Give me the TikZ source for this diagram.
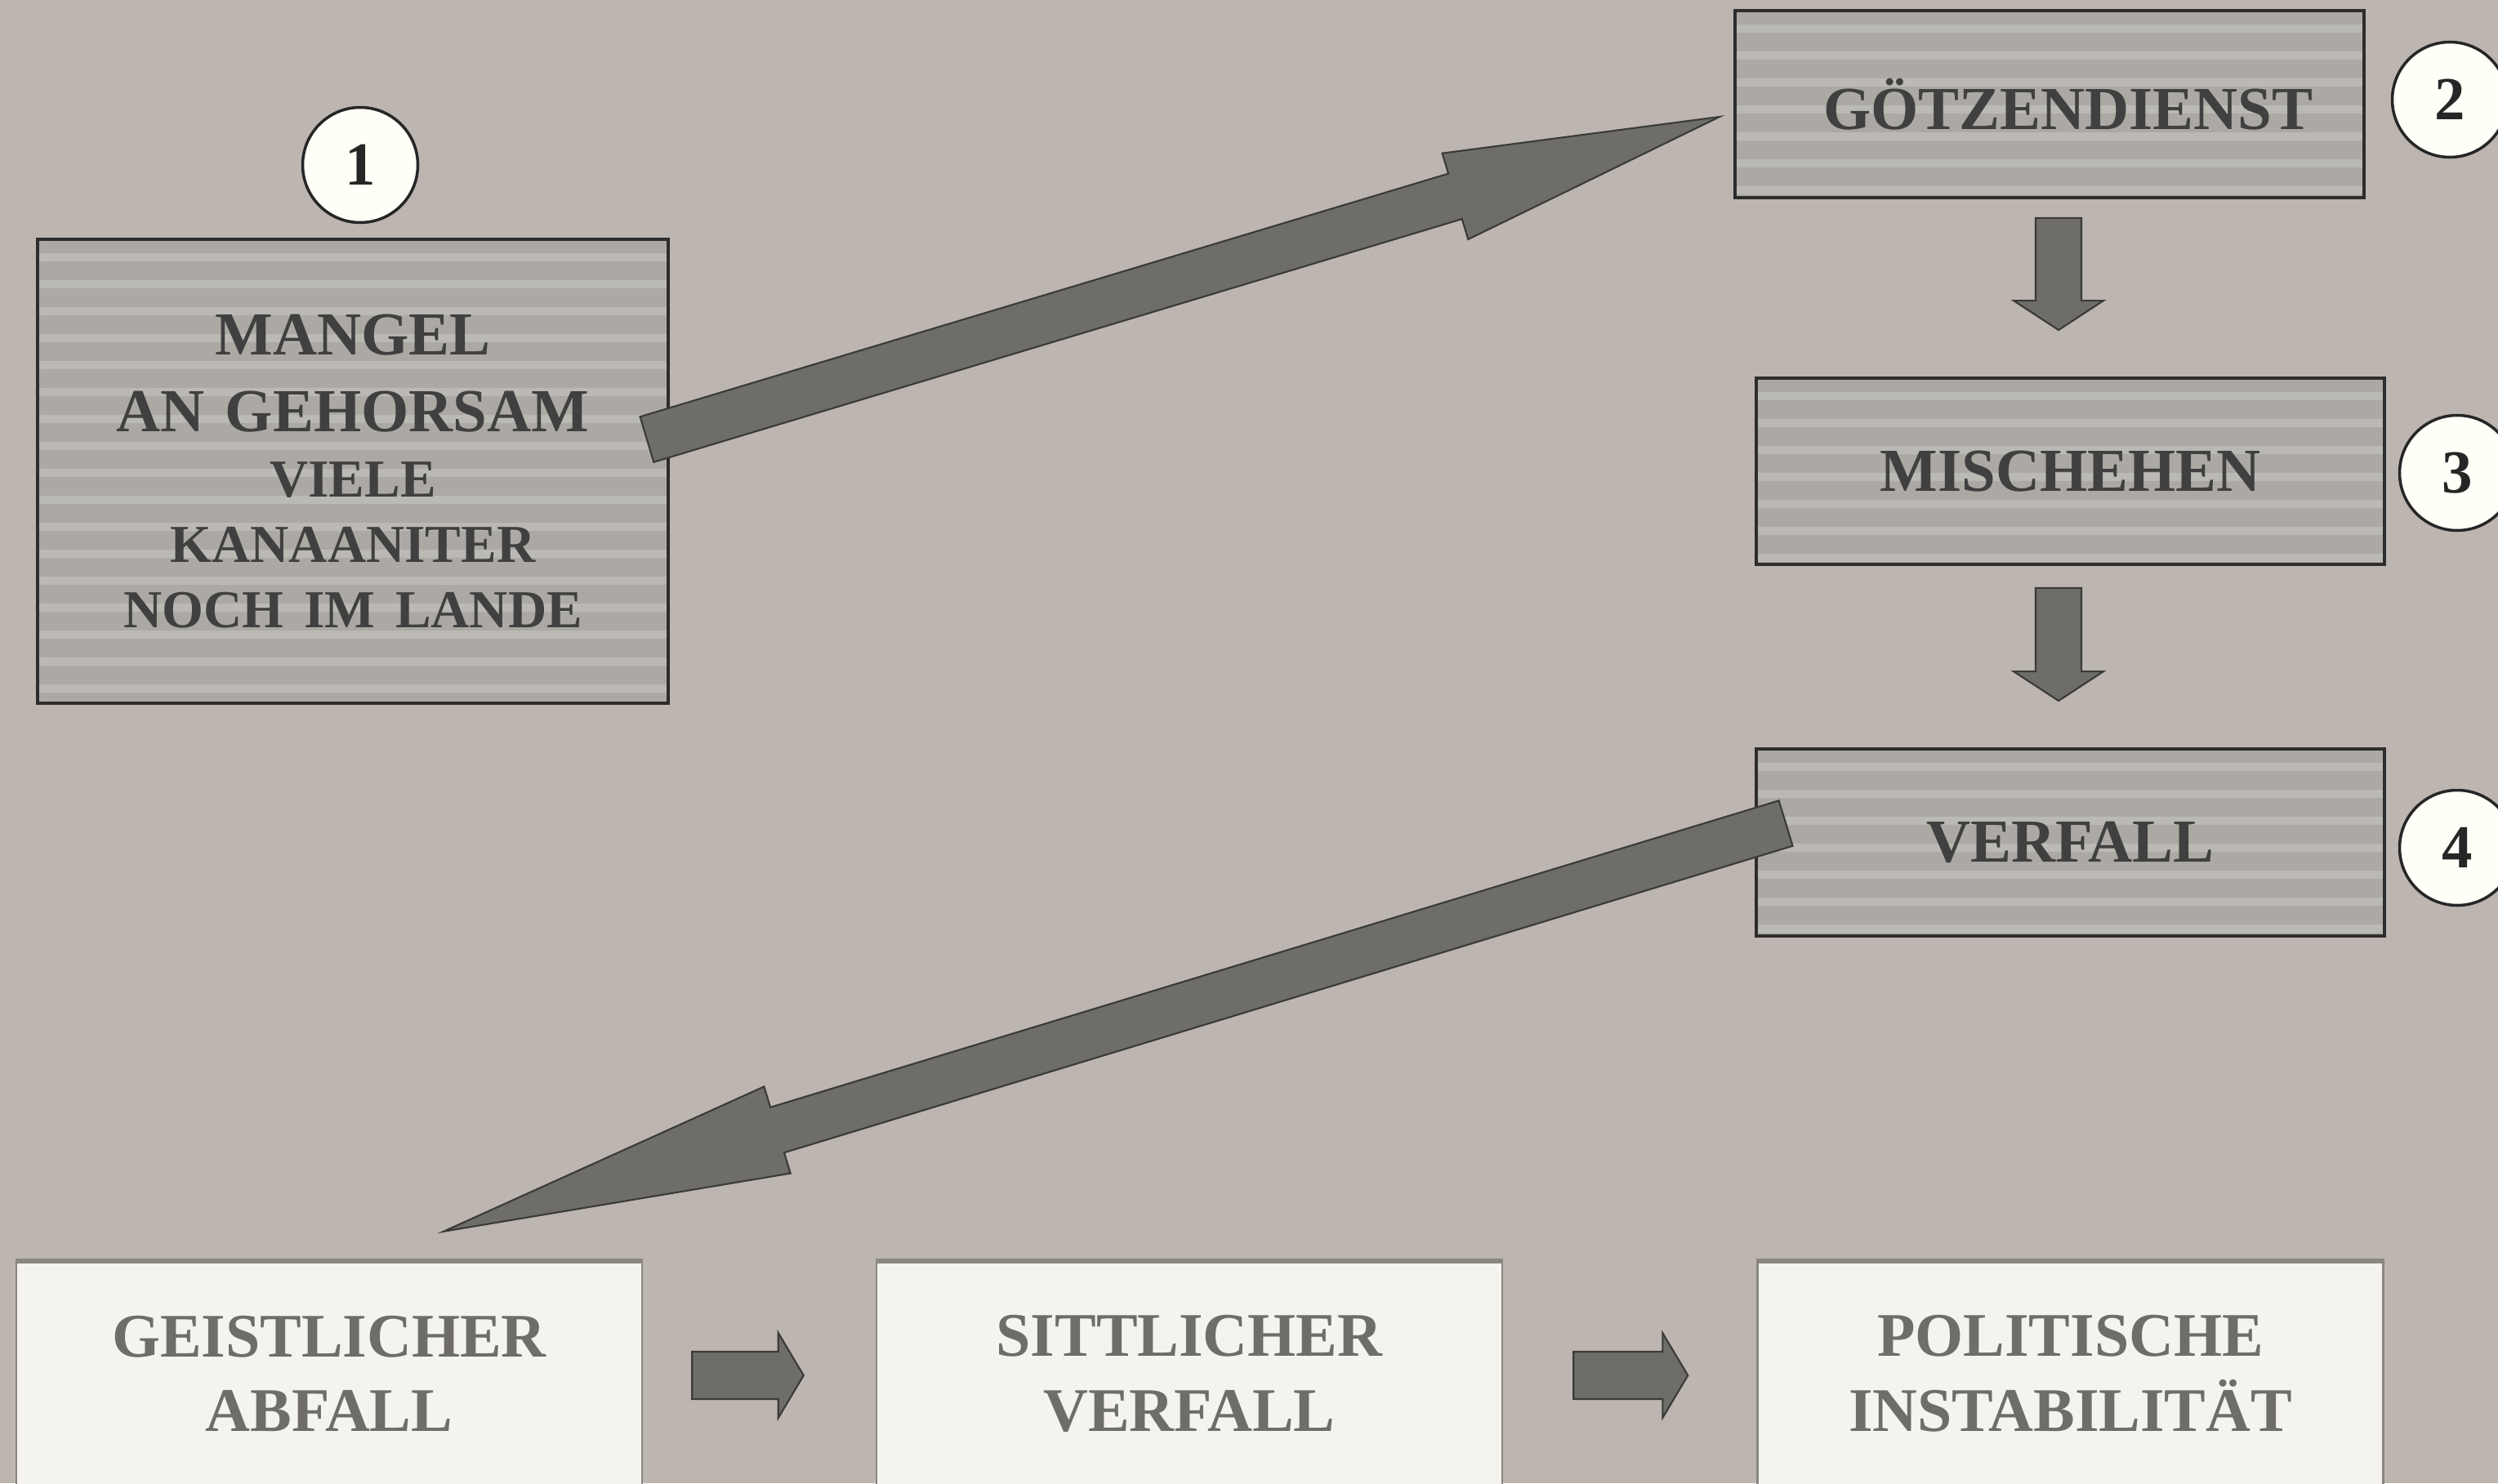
\documentclass[tikz,border=0pt]{standalone}
\usepackage{fontspec}
\setmainfont{Liberation Serif}
\usepackage{xcolor}
\usepackage{tikz}
\usetikzlibrary{calc}

\definecolor{bgcol}{RGB}{189,181,176}
\definecolor{boxfill}{RGB}{172,169,164}
\definecolor{bandcol}{RGB}{187,185,180}
\definecolor{boxedge}{RGB}{45,45,45}
\definecolor{boxtext}{RGB}{64,64,64}
\definecolor{arrowfill}{RGB}{110,109,105}
\definecolor{arrowedge}{RGB}{58,58,56}
\definecolor{circfill}{RGB}{255,255,248}
\definecolor{lightfill}{RGB}{245,243,237}
\definecolor{lightedge}{RGB}{138,135,129}
\definecolor{lighttext}{RGB}{111,109,104}

\newcommand{\bigfont}{\fontsize{21.3pt}{26.7pt}\selectfont}
\newcommand{\smallfont}{\fontsize{18.6pt}{22.7pt}\selectfont}

\tikzset{
    graybox/.style={draw=boxedge, line width=1.1pt, fill=boxfill, inner sep=0pt,
        minimum width=7.7cm, minimum height=2.29cm, text=boxtext,
        font=\bfseries\bigfont, align=center,
        path picture={
            \foreach \k in {0,...,17}
                \fill[bandcol] ([yshift={-(0.17+0.33*\k)*1cm}]path picture bounding box.north west)
                    rectangle ([yshift={-(0.27+0.33*\k)*1cm}]path picture bounding box.north east);
        }},
    lightbox/.style={draw=lightedge, line width=0.7pt, fill=lightfill, inner sep=0pt,
        minimum width=7.66cm, minimum height=2.8cm, text=lighttext,
        font=\bfseries\fontsize{21.6pt}{26.1pt}\selectfont, align=center,
        path picture={
            \fill[lightedge] (path picture bounding box.north west)
                rectangle ([yshift=-0.05cm]path picture bounding box.north east);
        }},
    numcirc/.style={circle, draw=black!85, line width=1pt, fill=circfill, inner sep=0pt,
        minimum size=1.41cm, font=\bfseries\bigfont, text=black!85},
    bigarrow/.style={fill=arrowfill, draw=arrowedge, line width=0.6pt, line join=miter}
}

% from, to, half shaft, half head, head length
\newcommand{\blockarrow}[5]{%
    \path ($(#2)!#5!(#1)$) coordinate (hb);
    \filldraw[bigarrow] ($(#1)!#3!90:(#2)$) -- ($(hb)!#3!90:(#2)$) -- ($(hb)!#4!90:(#2)$)
        -- (#2) -- ($(hb)!#4!-90:(#2)$) -- ($(hb)!#3!-90:(#2)$) -- ($(#1)!#3!-90:(#2)$) -- cycle;
}

\begin{document}
\begin{tikzpicture}[x=1cm, y=-1cm]
        \useasboundingbox (0,0) rectangle (30.58,18.16);
        \clip (0,0) rectangle (30.58,18.16);
        \fill[bgcol] (0,0) rectangle (30.58,18.16);

        %KOTAK ATAS
        \node[graybox, minimum width=7.72cm, minimum height=5.68cm, text width=7.5cm] (mangel) at (4.32,5.77)
            {MANGEL\\AN GEHORSAM\\\smallfont VIELE\\KANAANITER\\NOCH IM LANDE\par};
        \node[graybox] (goetzen) at (25.09,1.275) {\hspace*{0.45cm}GÖTZENDIENST};
        \node[graybox, minimum width=7.69cm, minimum height=2.28cm] (misch) at (25.345,5.77) {MISCHEHEN};
        \node[graybox, minimum width=7.69cm] (verfall) at (25.345,10.315) {VERFALL};

        %KOTAK BAWAH
        \node[lightbox] (geist) at (4.03,16.82) {GEISTLICHER\\ABFALL};
        \node[lightbox] (sitt) at (14.56,16.82) {SITTLICHER\\VERFALL};
        \node[lightbox] (polit) at (25.345,16.82) {POLITISCHE\\INSTABILITÄT};

        %LINGKARAN
        \node[numcirc] (n1) at (4.41,2.02) {1};
        \node[numcirc] (n2) at (29.99,1.22) {2};
        \node[numcirc] (n3) at (30.08,5.79) {3};
        \node[numcirc] (n4) at (30.08,10.38) {4};

        %PANAH
        \coordinate (a1s) at ([shift={(-0.28,-0.39)}]mangel.east);
        \coordinate (a1e) at ([shift={(-0.17,0.155)}]goetzen.west);
        \coordinate (a2s) at ([shift={(0.38,-0.235)}]verfall.west);
        \coordinate (a2e) at ([shift={(1.40,-0.33)}]geist.north);
        \coordinate (d1s) at ([shift={(0.11,0.23)}]goetzen.south);
        \coordinate (d1e) at ([shift={(-0.145,-0.57)}]misch.north);
        \coordinate (d2s) at ([shift={(-0.145,0.27)}]misch.south);
        \coordinate (d2e) at ([shift={(-0.145,-0.57)}]verfall.north);
        \coordinate (r1s) at ([shift={(0.60,0.02)}]geist.east);
        \coordinate (r1e) at ([shift={(-0.88,0.02)}]sitt.west);
        \coordinate (r2s) at ([shift={(0.86,0.02)}]sitt.east);
        \coordinate (r2e) at ([shift={(-0.84,0.02)}]polit.west);

        \blockarrow{a1s}{a1e}{0.29cm}{0.55cm}{3.38cm}
        \blockarrow{a2s}{a2e}{0.29cm}{0.555cm}{4.27cm}
        \blockarrow{d1s}{d1e}{0.28cm}{0.55cm}{0.36cm}
        \blockarrow{d2s}{d2e}{0.28cm}{0.55cm}{0.36cm}
        \blockarrow{r1s}{r1e}{0.29cm}{0.52cm}{0.31cm}
        \blockarrow{r2s}{r2e}{0.29cm}{0.52cm}{0.31cm}
    \end{tikzpicture}
\end{document}
